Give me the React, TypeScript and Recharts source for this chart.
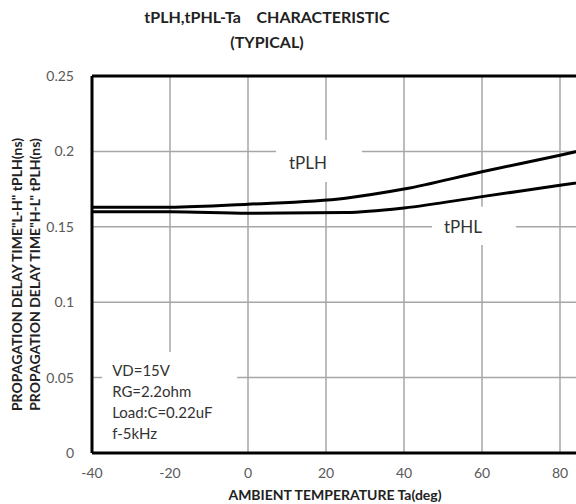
import React from "react";
import { LineChart, Line, XAxis, YAxis, CartesianGrid, ReferenceLine, ReferenceArea, Label } from "recharts";

// Ta (deg) and delay times (ns)
const temps = [-40, -20, 0, 25, 40, 60, 80, 100];
const tplh = [0.163, 0.163, 0.165, 0.169, 0.175, 0.1865, 0.1975, 0.209];
const tphl = [0.16, 0.16, 0.159, 0.1595, 0.1625, 0.17, 0.1775, 0.185];

const xTicks = [-40, -20, 0, 20, 40, 60, 80];
const yTicks = [0, 0.05, 0.1, 0.15, 0.2, 0.25];
const conditions = ["VD=15V", "RG=2.2ohm", "Load:C=0.22uF", "f-5kHz"];

const data = temps.map((t, i) => ({ t, tplh: tplh[i], tphl: tphl[i] }));

const FONT = "Lato, 'Open Sans', sans-serif";

const YTitle = (props: any) => {
  const { viewBox } = props;
  const cy = viewBox.y + viewBox.height / 2 + 10;
  return (
    <g fontFamily={FONT} fontWeight="bold" fontSize={14} fill="#222">
      <text x={18} y={cy} transform={`rotate(-90, 18, ${cy})`} textAnchor="middle" dominantBaseline="middle">
        PROPAGATION DELAY TIME"L-H" tPLH(ns)
      </text>
      <text x={36} y={cy} transform={`rotate(-90, 36, ${cy})`} textAnchor="middle" dominantBaseline="middle">
        PROPAGATION DELAY TIME"H-L"  tPLH(ns)
      </text>
    </g>
  );
};

const CondLabel = (props: any) => {
  const { viewBox } = props;
  const x = viewBox.x + 10;
  return (
    <g fontFamily={FONT} fontSize={15} fill="#333">
      {conditions.map((c, i) => (
        <text key={c} x={x} y={viewBox.y + 20 + i * 21} dominantBaseline="middle">
          {c}
        </text>
      ))}
    </g>
  );
};

export default function App() {
  return (
    <div style={{ position: "absolute", left: 0, top: 0, width: 576, height: 504, overflow: "hidden", background: "#fff" }}>
      <div style={{ position: "absolute", left: 0, top: 4, width: 534, textAlign: "center", fontFamily: FONT, fontWeight: "bold", fontSize: 16, lineHeight: "25px", color: "#222", whiteSpace: "pre" }}>
        {"tPLH,tPHL-Ta    CHARACTERISTIC"}
        <br />
        (TYPICAL)
      </div>
      <LineChart width={660} height={504} data={data} margin={{ top: 76, right: 22, bottom: 0, left: 0 }}>
        <CartesianGrid stroke="#a6a6a6" strokeWidth={1.5} />
        <ReferenceArea x1={-37.4} x2={-2.8} y1={0} y2={0.067} fill="#fff" fillOpacity={1} stroke="none" label={<CondLabel />} />
        <ReferenceArea x1={7.2} x2={29.2} y1={0.1797} y2={0.2076} fill="#fff" fillOpacity={1} stroke="none"
          label={{ value: "tPLH", position: "center", dx: -11, dy: 2, fontFamily: FONT, fontSize: 17, fill: "#333" }} />
        <ReferenceArea x1={47.2} x2={68.7} y1={0.1379} y2={0.1633} fill="#fff" fillOpacity={1} stroke="none"
          label={{ value: "tPHL", position: "center", dx: -11, dy: 1, fontFamily: FONT, fontSize: 17, fill: "#333" }} />
        <ReferenceLine y={0.25} stroke="#000" strokeWidth={3} />
        <XAxis
          dataKey="t"
          type="number"
          domain={[-40, 100]}
          ticks={xTicks}
          allowDataOverflow
          height={51}
          tickLine={false}
          axisLine={{ stroke: "#000", strokeWidth: 3 }}
          tickMargin={9}
          tick={{ fontFamily: FONT, fontSize: 14, fill: "#595959" }}
        >
          <Label value="AMBIENT TEMPERATURE Ta(deg)" position="insideBottom" offset={4} dx={-30}
            style={{ fontFamily: FONT, fontWeight: "bold", fontSize: 14, fill: "#222" }} />
        </XAxis>
        <YAxis
          type="number"
          domain={[0, 0.25]}
          ticks={yTicks}
          width={92}
          tickLine={false}
          axisLine={{ stroke: "#000", strokeWidth: 3 }}
          tickMargin={12}
          tick={{ fontFamily: FONT, fontSize: 14, fill: "#595959" }}
        >
          <Label content={<YTitle />} />
        </YAxis>
        <Line type="monotone" dataKey="tplh" stroke="#000" strokeWidth={3} dot={false} isAnimationActive={false} />
        <Line type="monotone" dataKey="tphl" stroke="#000" strokeWidth={3} dot={false} isAnimationActive={false} />
      </LineChart>
    </div>
  );
}
